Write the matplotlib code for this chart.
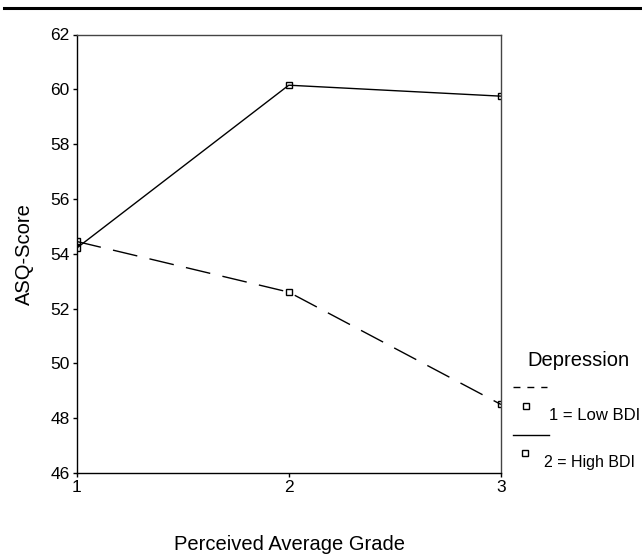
import matplotlib
matplotlib.use("Agg")
import matplotlib.pyplot as plt
from matplotlib.lines import Line2D

plt.rcParams['font.family'] = ['Liberation Sans', 'DejaVu Sans']

# Data
grades = [1, 2, 3]
low_bdi = [54.45, 52.6, 48.5]
high_bdi = [54.2, 60.15, 59.75]
y_ticks = [46, 48, 50, 52, 54, 56, 58, 60, 62]
x_ticks = [1, 2, 3]

fig = plt.figure(figsize=(6.42, 5.56), dpi=100)
ax = fig.add_axes([76.5 / 642, 83 / 556, 424.5 / 642, 438.5 / 556])

# Lines with open square markers
ax.plot(grades, low_bdi, color='black', lw=1.0, linestyle=(0, (18, 9)),
        marker='s', markersize=5, markerfacecolor='none', markeredgewidth=1.0)
ax.plot(grades, high_bdi, color='black', lw=1.0, linestyle='-',
        marker='s', markersize=5, markerfacecolor='none', markeredgewidth=1.0)

ax.set_xlim(1, 3)
ax.set_ylim(46, 62)
ax.set_xticks(x_ticks)
ax.set_yticks(y_ticks)
ax.tick_params(direction='out', length=3, width=1, labelsize=12.5, pad=2)
for s in ax.spines.values():
    s.set_linewidth(1.0)
ax.spines['top'].set_color('#444444')
ax.spines['right'].set_color('#444444')

ax.set_ylabel("ASQ-Score", fontsize=14.5, labelpad=12)


def fx(px):
    return px / 642


def fy(py):
    return 1 - py / 556


fig.text(fx(289), fy(544), "Perceived Average Grade", fontsize=14.5, ha='center', va='center')

# Rule across the top of the page
fig.add_artist(Line2D([4 / 642, 1], [fy(8), fy(8)], color='black', lw=2.2))

# Legend drawn SPSS-style at the right
fig.text(fx(527), fy(360), "Depression", fontsize=14.5, va='center', ha='left')
fig.add_artist(Line2D([fx(513), fx(547)], [fy(386.5), fy(386.5)], color='black', lw=1.0,
                      linestyle=(0, (5, 5))))
fig.add_artist(Line2D([fx(526)], [fy(406)], marker='s', markersize=5, markerfacecolor='none',
                      markeredgecolor='black', markeredgewidth=1.0, linestyle='none'))
fig.text(fx(549), fy(415), "1 = Low BDI", fontsize=12, va='center', ha='left')
fig.add_artist(Line2D([fx(513), fx(549)], [fy(435), fy(435)], color='black', lw=1.0))
fig.add_artist(Line2D([fx(525)], [fy(453)], marker='s', markersize=5, markerfacecolor='none',
                      markeredgecolor='black', markeredgewidth=1.0, linestyle='none'))
fig.text(fx(544), fy(463), "2 = High BDI", fontsize=11.5, va='center', ha='left')

fig.savefig("out.png", dpi=100)
